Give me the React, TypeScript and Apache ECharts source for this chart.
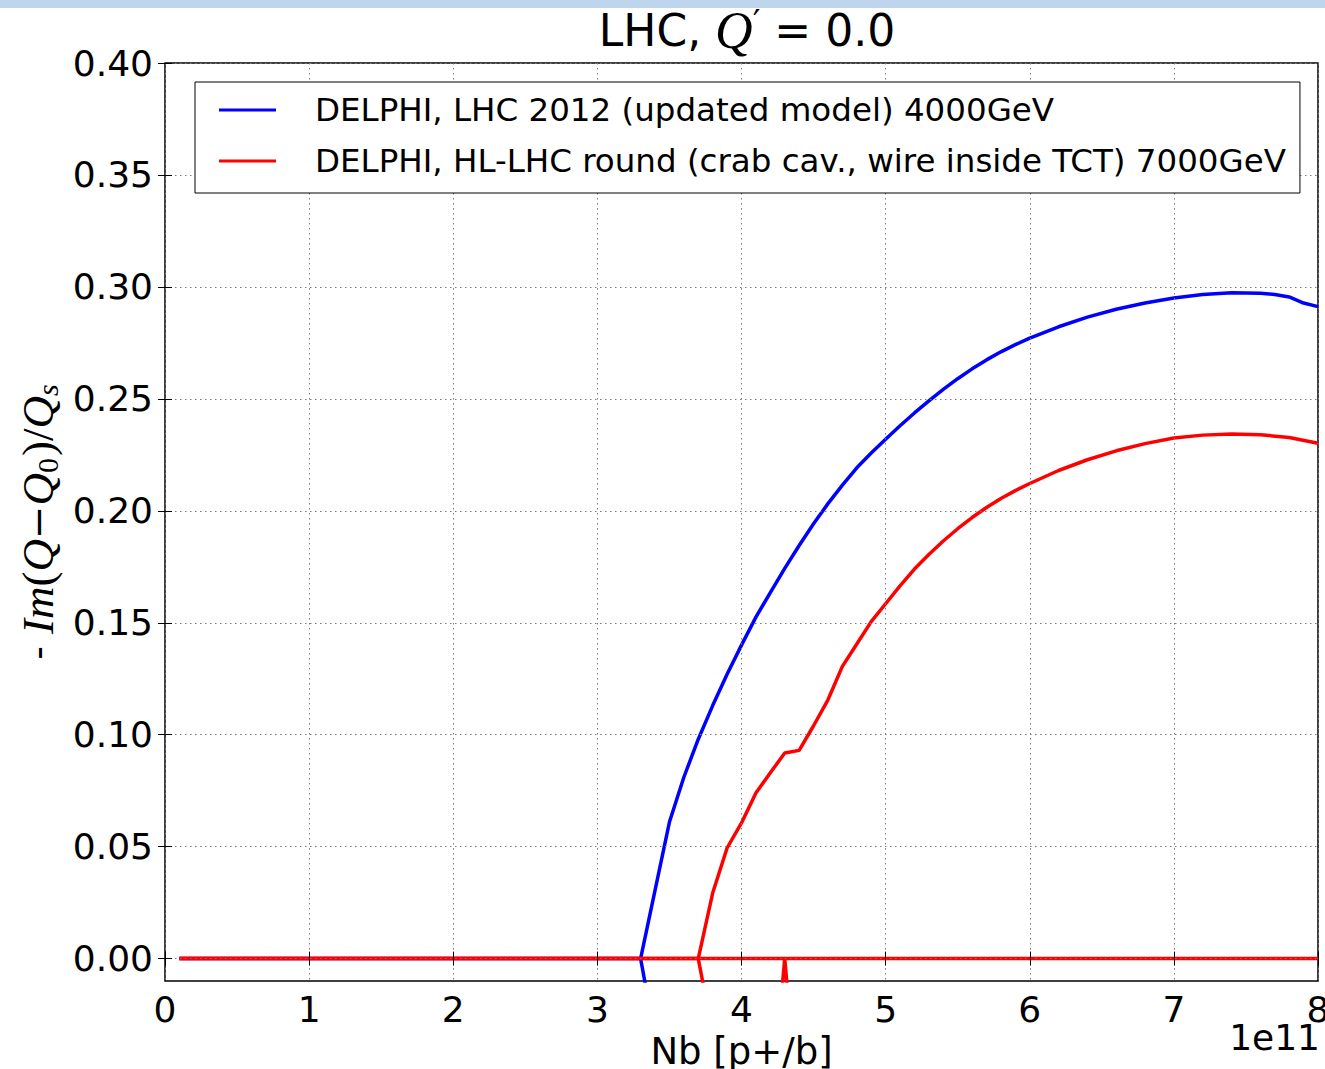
import React, { useEffect, useRef } from "react";
import * as echarts from "echarts";

// ---- data ----
const xTickValues = [0, 1, 2, 3, 4, 5, 6, 7, 8];
const yTickValues = [0, 0.05, 0.1, 0.15, 0.2, 0.25, 0.3, 0.35, 0.4];

const seriesNames = [
  "DELPHI, LHC 2012 (updated model) 4000GeV",
  "DELPHI, HL-LHC round (crab cav., wire inside TCT) 7000GeV",
];

// LHC 2012 (blue), Nb in units of 1e11
const blueNb = [0.1, 3.3, 3.5, 3.6, 3.7, 3.8, 3.9, 4.0, 4.1, 4.2, 4.3, 4.4, 4.5, 4.6, 4.7, 4.8, 4.9, 5.0, 5.1, 5.2, 5.3, 5.4, 5.5, 5.6, 5.7, 5.8, 5.9, 6.0, 6.2, 6.4, 6.6, 6.8, 7.0, 7.2, 7.4, 7.6, 7.7, 7.8, 7.9, 8.0];
const blueIm = [0, 0, 0.061, 0.081, 0.098, 0.113, 0.127, 0.14, 0.1525, 0.1635, 0.1743, 0.1845, 0.1942, 0.2032, 0.2115, 0.2192, 0.2258, 0.232, 0.238, 0.2437, 0.2491, 0.2542, 0.259, 0.2634, 0.2674, 0.271, 0.2742, 0.2771, 0.2822, 0.2865, 0.29, 0.2928, 0.295, 0.2966, 0.2974, 0.2972, 0.2966, 0.2955, 0.2928, 0.2912];
const blueBranchNb = [3.3, 3.4];
const blueBranchIm = [0, -0.035];

// HL-LHC round (red)
const redNb = [0.1, 3.7, 3.8, 3.9, 4.0, 4.1, 4.2, 4.3, 4.4, 4.5, 4.6, 4.7, 4.8, 4.9, 5.0, 5.1, 5.2, 5.3, 5.4, 5.5, 5.6, 5.7, 5.8, 5.9, 6.0, 6.2, 6.4, 6.6, 6.8, 7.0, 7.2, 7.4, 7.6, 7.8, 8.0];
const redIm = [0, 0, 0.0293, 0.0494, 0.0606, 0.074, 0.083, 0.0918, 0.093, 0.104, 0.1156, 0.1305, 0.1405, 0.1505, 0.1585, 0.1665, 0.174, 0.1805, 0.1865, 0.192, 0.197, 0.2015, 0.2055, 0.209, 0.2122, 0.218, 0.2228, 0.2268, 0.23, 0.2325, 0.2338, 0.2343, 0.234, 0.2327, 0.2302];
const redBranchNb = [3.7, 3.8];
const redBranchIm = [0, -0.0335];
const redSpikeNb = [4.2, 4.3, 4.4];
const redSpikeIm = [-0.072, 0, -0.072];
const redZeroNb = [0.1, 8.0];
const redZeroIm = [0, 0];

const pairs = (xs: number[], ys: number[]) => xs.map((x, i) => [x, ys[i]]);

const BLUE = "#0000ff";
const RED = "#ff0000";

export default function App() {
  const ref = useRef<HTMLDivElement>(null);

  useEffect(() => {
    if (!ref.current) return;
    const chart = echarts.init(ref.current, null, { renderer: "svg", width: 1325, height: 1069 });

    const lineSeries = (name: string, data: number[][], color: string) => ({
      name,
      type: "line",
      data,
      symbol: "none",
      showSymbol: false,
      lineStyle: { color, width: 3.5 },
      itemStyle: { color },
      z: 2,
      clip: true,
    });

    const gridLine = { show: true, lineStyle: { color: "#7a7a7a", type: [1.5, 3.5], width: 1 } };
    const tick = { show: true, inside: true, length: 7, lineStyle: { color: "#000", width: 1 } };

    const option = {
      animation: false,
      backgroundColor: "#ffffff",
      title: {
        text: "{a|LHC, }{q|Q}{p|′}{e| = }{a|0.0}",
        left: 742,
        top: 0,
        textAlign: "center",
        textStyle: {
          fontWeight: "normal",
          rich: {
            a: { fontFamily: "DejaVu Sans", fontWeight: "normal", fontSize: 44, color: "#000", lineHeight: 50 },
            q: { fontFamily: "Liberation Serif", fontStyle: "italic", fontWeight: "normal", fontSize: 52, color: "#000", lineHeight: 50 },
            p: { fontFamily: "DejaVu Serif", fontWeight: "normal", fontSize: 34, color: "#000", lineHeight: 50, padding: [0, 0, 16, 0] },
            e: { fontFamily: "DejaVu Sans", fontWeight: "normal", fontSize: 44, color: "#000", lineHeight: 50 },
          },
        },
      },
      legend: {
        data: seriesNames,
        orient: "vertical",
        left: 195,
        top: 82,
        padding: [10, 14, 14, 24],
        icon: "rect",
        itemWidth: 57,
        itemHeight: 3,
        itemGap: 15,
        backgroundColor: "#ffffff",
        borderColor: "#000",
        borderWidth: 1,
        borderRadius: 0,
        z: 10,
        textStyle: {
          fontFamily: "DejaVu Sans",
          fontSize: 32.5,
          color: "#000",
          lineHeight: 36,
          padding: [0, 0, 0, 34],
        },
      },
      grid: {
        left: 165,
        top: 63,
        width: 1153,
        height: 918,
        outerBoundsMode: "none",
        containLabel: false,
        show: true,
        borderColor: "#000",
        borderWidth: 1.5,
        backgroundColor: "transparent",
      },
      xAxis: [
        {
          type: "value",
          position: "bottom",
          min: 0,
          max: 8,
          interval: 1,
          z: 5,
          axisLine: { show: false },
          axisTick: tick,
          splitLine: gridLine,
          axisLabel: {
            show: true,
            fontFamily: "DejaVu Sans",
            fontSize: 36,
            color: "#000",
            margin: 10,
            formatter: (v: number) => String(v),
          },
          name: "Nb [p+/b]",
          nameLocation: "middle",
          nameGap: 52,
          nameTextStyle: { fontFamily: "DejaVu Sans", fontSize: 37, color: "#000" },
        },
        {
          type: "value",
          position: "top",
          min: 0,
          max: 8,
          interval: 1,
          z: 5,
          axisLine: { show: false },
          axisTick: tick,
          splitLine: { show: false },
          axisLabel: { show: false },
        },
      ],
      yAxis: [
        {
          type: "value",
          position: "left",
          min: -0.01,
          max: 0.4,
          z: 5,
          axisLine: { show: false },
          axisTick: { ...tick, customValues: yTickValues },
          splitLine: gridLine,
          axisLabel: {
            show: true,
            customValues: yTickValues,
            fontFamily: "DejaVu Sans",
            fontSize: 36,
            color: "#000",
            margin: 12,
            formatter: (v: number) => v.toFixed(2),
          },
        },
        {
          type: "value",
          position: "right",
          min: -0.01,
          max: 0.4,
          z: 5,
          axisLine: { show: false },
          axisTick: { ...tick, customValues: yTickValues },
          splitLine: { show: false },
          axisLabel: { show: false },
        },
      ],
      series: [
        lineSeries(seriesNames[0], pairs(blueNb, blueIm), BLUE),
        lineSeries("LHC 2012 other mode", pairs(blueBranchNb, blueBranchIm), BLUE),
        lineSeries(seriesNames[1], pairs(redNb, redIm), RED),
        lineSeries("HL-LHC other mode", pairs(redBranchNb, redBranchIm), RED),
        lineSeries("HL-LHC other mode 2", pairs(redSpikeNb, redSpikeIm), RED),
        lineSeries("HL-LHC other mode 3", pairs(redZeroNb, redZeroIm), RED),
      ],
      graphic: [
        {
          type: "rect",
          shape: { x: 0, y: 0, width: 1325, height: 8 },
          style: { fill: "#bfd5ee" },
          z: 20,
        },
        {
          type: "text",
          x: 38,
          y: 522,
          rotation: Math.PI / 2,
          style: {
            text: "{s|- }{i|Im}{r|(}{i|Q}{m|−}{i|Q}{b|0}{r|)/}{i|Q}{c|s}",
            align: "center",
            verticalAlign: "middle",
            fill: "#000",
            rich: {
              s: { fontFamily: "DejaVu Sans", fontSize: 38, fill: "#000", lineHeight: 48 },
              i: { fontFamily: "Liberation Serif", fontStyle: "italic", fontSize: 45, fill: "#000", lineHeight: 48 },
              r: { fontFamily: "Liberation Serif", fontSize: 45, fill: "#000", lineHeight: 48 },
              m: { fontFamily: "DejaVu Serif", fontSize: 40, fill: "#000", lineHeight: 48 },
              b: { fontFamily: "Liberation Serif", fontSize: 30, fill: "#000", lineHeight: 48, verticalAlign: "bottom", padding: [0, 2, 0, 0] },
              c: { fontFamily: "Liberation Serif", fontStyle: "italic", fontSize: 30, fill: "#000", lineHeight: 48, verticalAlign: "bottom" },
            },
          },
        },
        {
          type: "text",
          x: 1320,
          y: 1037,
          style: {
            text: "1e11",
            align: "right",
            verticalAlign: "middle",
            fontFamily: "DejaVu Sans",
            fontSize: 36,
            fill: "#000",
          },
        },
      ],
    };

    chart.setOption(option as any);
    return () => chart.dispose();
  }, []);

  return (
    <div
      style={{ position: "fixed", left: 0, top: 0, width: 1325, height: 1069, background: "#fff" }}
    >
      <div ref={ref} style={{ width: 1325, height: 1069 }} />
    </div>
  );
}
